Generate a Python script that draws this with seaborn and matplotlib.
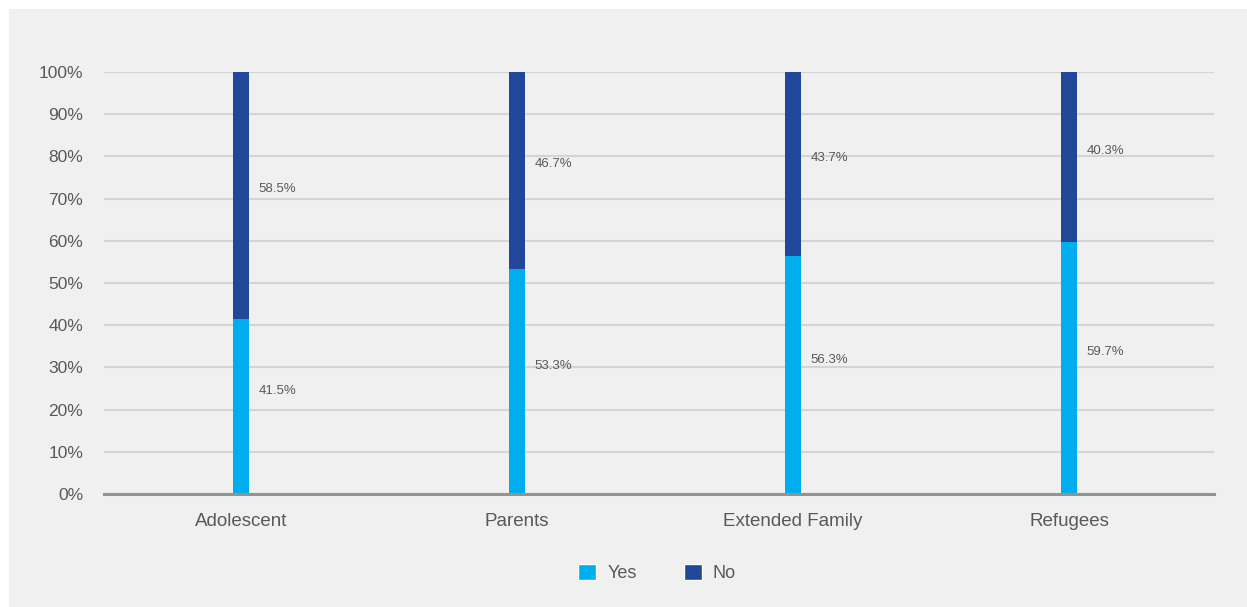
import matplotlib
matplotlib.use("Agg")
import matplotlib.pyplot as plt
from matplotlib.patches import Rectangle
import seaborn as sns
import pandas as pd

categories = ["Adolescent", "Parents", "Extended Family", "Refugees"]
yes_values = [41.5, 53.3, 56.3, 59.7]
no_values = [58.5, 46.7, 43.7, 40.3]
y_ticks = [0, 10, 20, 30, 40, 50, 60, 70, 80, 90, 100]
y_tick_labels = [f"{t}%" for t in y_ticks]

YES_C = "#00aeef"
NO_C = "#21479b"
BG = "#f0f0f0"
TXT = "#595959"

sns.set_theme(style="white")
plt.rcParams["font.family"] = ["Liberation Sans", "DejaVu Sans"]

df = pd.DataFrame({"cat": categories, "yes": yes_values, "no": no_values})
df["total"] = df["yes"] + df["no"]

fig = plt.figure(figsize=(12.47, 6.07), dpi=100)
fig.patch.set_facecolor("white")
fig.patches.append(Rectangle((9 / 1247, 0), 1, 1 - 9 / 607, transform=fig.transFigure,
                             facecolor=BG, edgecolor="none", zorder=-10))
ax = fig.add_axes([104 / 1247, 1 - 494 / 607, (1214 - 104) / 1247, (494 - 72) / 607])
ax.set_facecolor(BG)

W = 0.055
sns.barplot(data=df, x="cat", y="total", color=NO_C, width=W, ax=ax, saturation=1,
            linewidth=0, edgecolor="none", zorder=3)
sns.barplot(data=df, x="cat", y="yes", color=YES_C, width=W, ax=ax, saturation=1,
            linewidth=0, edgecolor="none", zorder=4)

for i, (y, n) in enumerate(zip(yes_values, no_values)):
    ax.text(i + 0.063, y / 2 + 3.7, f"{y}%", ha="left", va="center", fontsize=9.5, color=TXT, zorder=5)
    ax.text(i + 0.063, y + n / 2 + 1.5, f"{n}%", ha="left", va="center", fontsize=9.5, color=TXT, zorder=5)

ax.set_ylim(0, 100)
ax.set_xlim(-0.496, 3.525)
ax.set_yticks(y_ticks)
ax.set_yticklabels(y_tick_labels)
ax.yaxis.grid(True, color="#d4d4d4", linewidth=1.5, zorder=0)
ax.set_axisbelow(True)
for s in ["top", "right", "left"]:
    ax.spines[s].set_visible(False)
ax.spines["bottom"].set_color("#939393")
ax.spines["bottom"].set_linewidth(2.2)
ax.spines["bottom"].set_zorder(6)
ax.tick_params(axis="both", length=0, labelsize=12.5, labelcolor=TXT)
ax.tick_params(axis="x", labelsize=13.5, pad=14)
ax.tick_params(axis="y", pad=15)
ax.set_xlabel("")
ax.set_ylabel("")

handles = [Rectangle((0, 0), 1, 1, facecolor=YES_C), Rectangle((0, 0), 1, 1, facecolor=NO_C)]
leg = fig.legend(handles, ["Yes", "No"], loc="center", bbox_to_anchor=(657 / 1247, 1 - 573 / 607),
                 ncol=2, frameon=False, fontsize=13, handlelength=1.0, handleheight=1.0,
                 columnspacing=2.6, handletextpad=0.6)
for t in leg.get_texts():
    t.set_color(TXT)

fig.savefig("out.png", dpi=100, facecolor=fig.get_facecolor())
